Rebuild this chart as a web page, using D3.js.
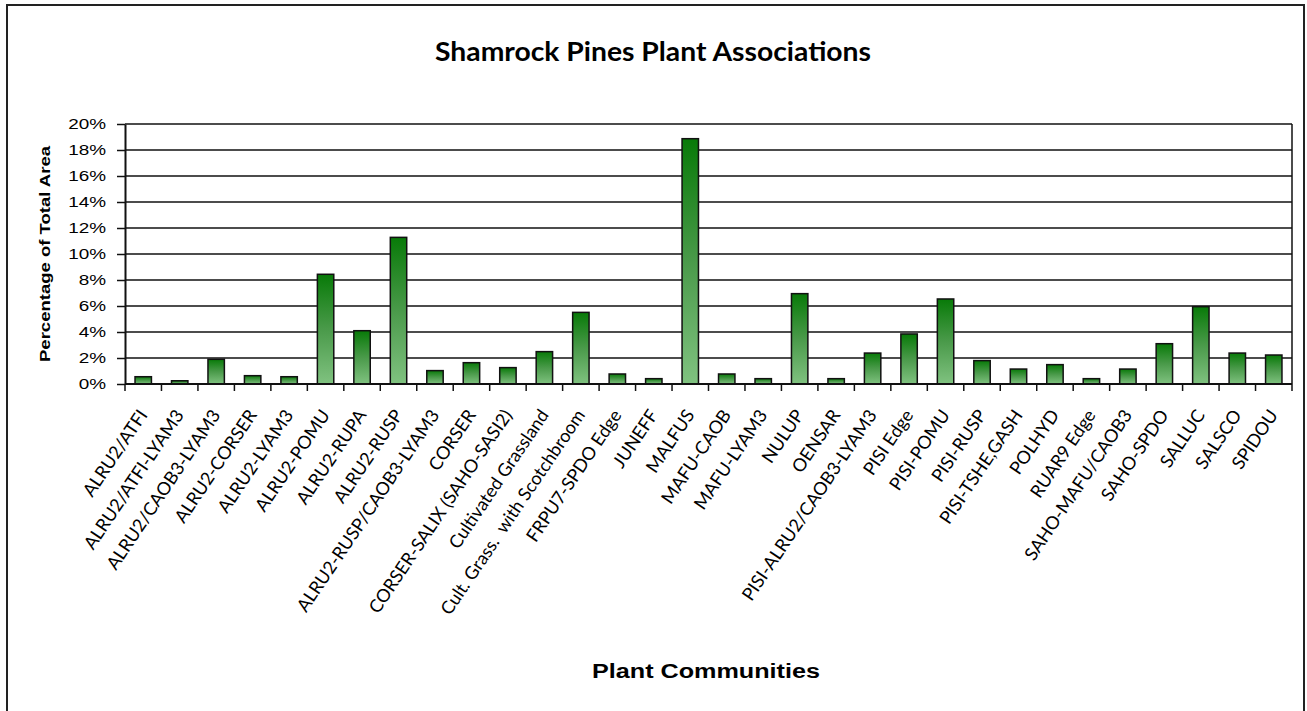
<!DOCTYPE html>
<html>
<head>
<meta charset="utf-8">
<script src="https://cdn.jsdelivr.net/npm/d3@7"></script>
<style>
  html, body { margin: 0; padding: 0; background: #fff; }
  svg { display: block; }
</style>
</head>
<body>
<script>
const categories = [
  "ALRU2/ATFI", "ALRU2/ATFI-LYAM3", "ALRU2/CAOB3-LYAM3", "ALRU2-CORSER", "ALRU2-LYAM3",
  "ALRU2-POMU", "ALRU2-RUPA", "ALRU2-RUSP", "ALRU2-RUSP/CAOB3-LYAM3", "CORSER",
  "CORSER-SALIX (SAHO-SASI2)", "Cultivated Grassland", "Cult. Grass.  with Scotchbroom", "FRPU7-SPDO Edge", "JUNEFF",
  "MALFUS", "MAFU-CAOB", "MAFU-LYAM3", "NULUP", "OENSAR",
  "PISI-ALRU2/CAOB3-LYAM3", "PISI Edge", "PISI-POMU", "PISI-RUSP", "PISI-TSHE,GASH",
  "POLHYD", "RUAR9 Edge", "SAHO-MAFU/CAOB3", "SAHO-SPDO", "SALLUC",
  "SALSCO", "SPIDOU"
];
const percentValues = [
  0.56, 0.25, 1.9, 0.64, 0.56,
  8.44, 4.1, 11.28, 1.03, 1.64,
  1.26, 2.49, 5.51, 0.77, 0.41,
  18.87, 0.77, 0.41, 6.95, 0.41,
  2.38, 3.85, 6.54, 1.8, 1.15,
  1.49, 0.41, 1.15, 3.1, 5.95,
  2.38, 2.23
];
const yTicks = [0, 2, 4, 6, 8, 10, 12, 14, 16, 18, 20];
const titleText = "Shamrock Pines Plant Associations";
const xTitleText = "Plant Communities";
const yTitleText = "Percentage of Total Area";

const W = 1307, H = 711;
const plot = { left: 125, right: 1292, top: 124, bottom: 384 };

const svg = d3.select("body").append("svg").attr("width", W).attr("height", H);

const defs = svg.append("defs");
const grad = defs.append("linearGradient").attr("id", "barGrad")
  .attr("x1", 0).attr("y1", 0).attr("x2", 0).attr("y2", 1);
grad.append("stop").attr("offset", "0%").attr("stop-color", "#087a08");
grad.append("stop").attr("offset", "50%").attr("stop-color", "#4a9a4a");
grad.append("stop").attr("offset", "100%").attr("stop-color", "#80c280");

// outer chart border
svg.append("rect").attr("x", 7).attr("y", 5).attr("width", 1297).attr("height", 800)
  .attr("fill", "none").attr("stroke", "#222").attr("stroke-width", 2);

const x = d3.scaleBand().domain(categories).range([plot.left, plot.right]).padding(0);
const y = d3.scaleLinear().domain([0, 20]).range([plot.bottom, plot.top]);

// gridlines
svg.append("g").selectAll("line").data(yTicks.filter(d => d > 0)).join("line")
  .attr("x1", plot.left).attr("x2", plot.right)
  .attr("y1", d => y(d)).attr("y2", d => y(d))
  .attr("stroke", "#111").attr("stroke-width", 1.5);

// plot area right border
svg.append("line").attr("x1", plot.right).attr("x2", plot.right)
  .attr("y1", plot.top).attr("y2", plot.bottom)
  .attr("stroke", "#111").attr("stroke-width", 1.5);

// bars
const barW = x.bandwidth() * 0.45;
svg.append("g").selectAll("rect").data(categories).join("rect")
  .attr("x", d => x(d) + (x.bandwidth() - barW) / 2)
  .attr("width", barW)
  .attr("y", (d, i) => y(percentValues[i]))
  .attr("height", (d, i) => y(0) - y(percentValues[i]))
  .attr("fill", "url(#barGrad)")
  .attr("stroke", "#111").attr("stroke-width", 1.5);

// y axis
const yAxis = svg.append("g").attr("transform", `translate(${plot.left},0)`)
  .call(d3.axisLeft(y).tickValues(yTicks).tickFormat(d => d + "%").tickSize(8).tickSizeOuter(0));
yAxis.select(".domain").attr("stroke", "#111").attr("stroke-width", 2);
yAxis.selectAll(".tick line").attr("stroke", "#111").attr("stroke-width", 1.5);
yAxis.selectAll(".tick text")
  .attr("font-family", "'Liberation Sans', Arial, sans-serif")
  .attr("font-size", 15.5).attr("fill", "#000")
  .attr("x", -19 / 1.22)
  .attr("transform", "scale(1.22,1)");

// x axis: ticks at category boundaries
const xg = svg.append("g");
xg.append("line").attr("x1", plot.left).attr("x2", plot.right)
  .attr("y1", plot.bottom).attr("y2", plot.bottom)
  .attr("stroke", "#111").attr("stroke-width", 2);
const boundaries = categories.map(c => x(c)).concat([x(categories[categories.length - 1]) + x.bandwidth()]);
xg.selectAll("line.tk").data(boundaries).join("line").attr("class", "tk")
  .attr("x1", d => d).attr("x2", d => d)
  .attr("y1", plot.bottom).attr("y2", plot.bottom + 7)
  .attr("stroke", "#111").attr("stroke-width", 1.5);

// category labels
xg.selectAll("text.cat").data(categories).join("text").attr("class", "cat")
  .attr("transform", d => `translate(${x(d) + x.bandwidth() / 2 + 5},${415}) rotate(-56)`)
  .attr("text-anchor", "end")
  .attr("font-family", "Lato, 'Open Sans', sans-serif")
  .attr("font-size", 18)
  .attr("fill", "#000")
  .style("white-space", "pre")
  .text(d => d);

// title
svg.append("text").attr("x", 653).attr("y", 61)
  .attr("text-anchor", "middle")
  .attr("font-family", "Lato, sans-serif").attr("font-weight", "bold")
  .attr("font-size", 26)
  .attr("textLength", 436).attr("lengthAdjust", "spacingAndGlyphs")
  .text(titleText);

// x title
svg.append("text").attr("x", 706).attr("y", 678)
  .attr("text-anchor", "middle")
  .attr("font-family", "'Liberation Sans', Arial, sans-serif").attr("font-weight", "bold")
  .attr("font-size", 20)
  .attr("textLength", 228).attr("lengthAdjust", "spacingAndGlyphs")
  .text(xTitleText);

// y title
svg.append("text")
  .attr("transform", "translate(50,254) rotate(-90)")
  .attr("text-anchor", "middle")
  .attr("font-family", "'Liberation Sans', Arial, sans-serif").attr("font-weight", "bold")
  .attr("font-size", 14.5)
  .attr("textLength", 216).attr("lengthAdjust", "spacingAndGlyphs")
  .text(yTitleText);
</script>
</body>
</html>
